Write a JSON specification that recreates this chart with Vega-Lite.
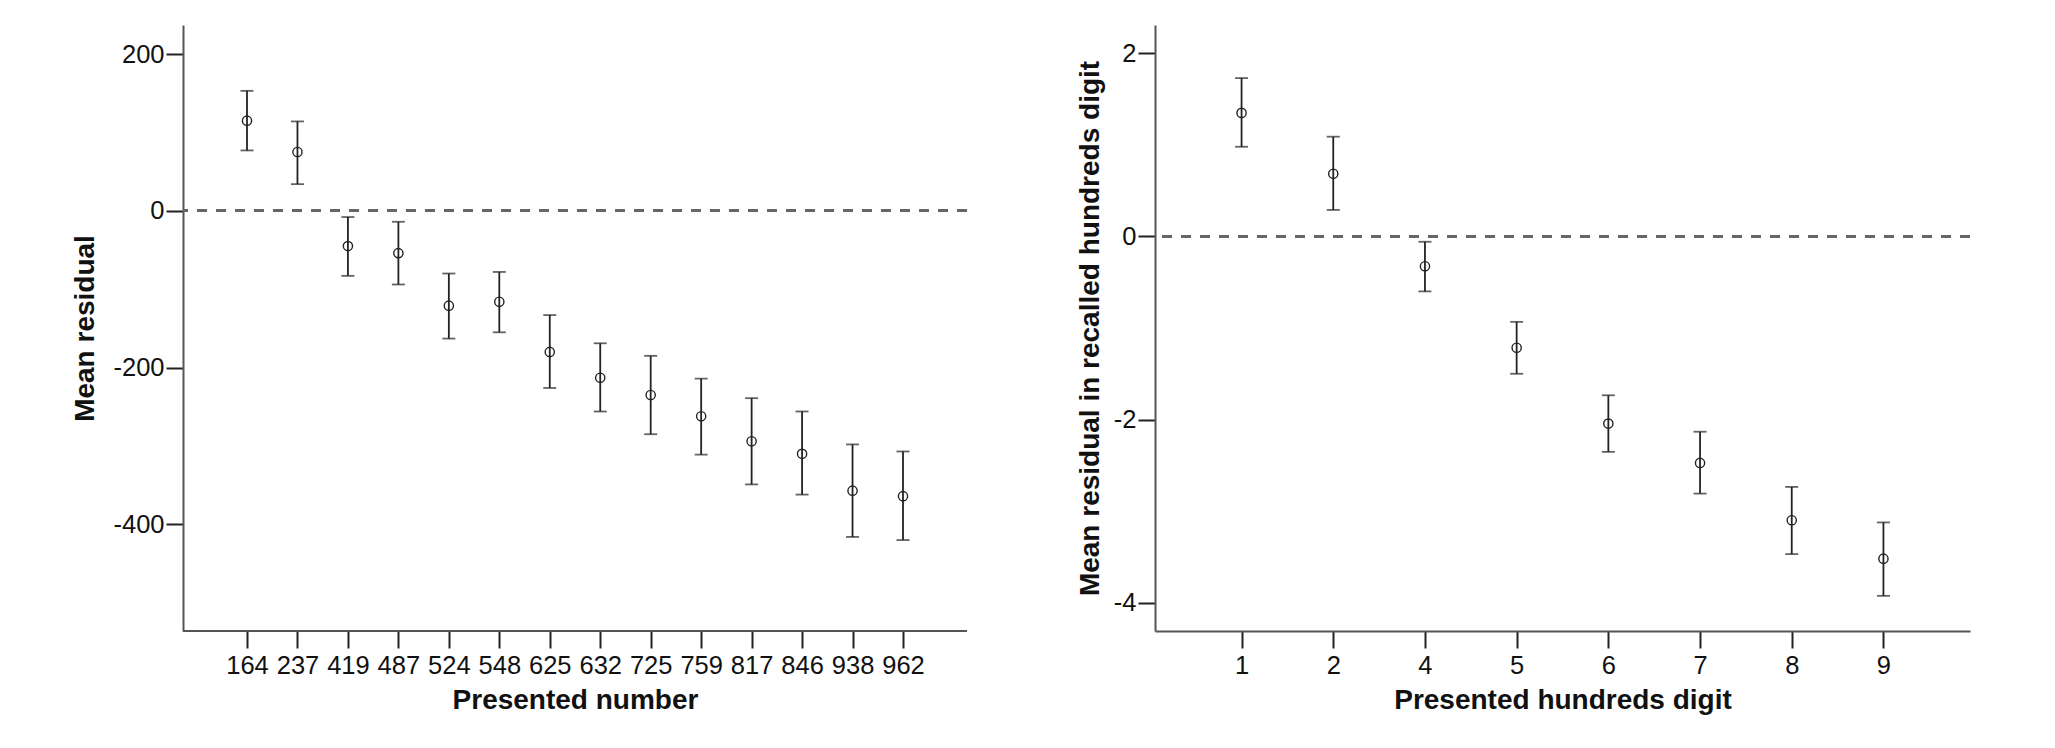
{
  "$schema": "https://vega.github.io/schema/vega-lite/v6.json",
  "background": "white",
  "padding": {"left": 71, "top": 25, "right": 10, "bottom": 10},
  "bounds": "flush",
  "spacing": 188,
  "datasets": {
    "numbers": [
      {"presented": 164, "mean": 115, "lo": 77, "hi": 153},
      {"presented": 237, "mean": 75, "lo": 34, "hi": 114},
      {"presented": 419, "mean": -45, "lo": -83, "hi": -8},
      {"presented": 487, "mean": -54, "lo": -94, "hi": -14},
      {"presented": 524, "mean": -121, "lo": -163, "hi": -80},
      {"presented": 548, "mean": -116, "lo": -155, "hi": -78},
      {"presented": 625, "mean": -180, "lo": -226, "hi": -133},
      {"presented": 632, "mean": -213, "lo": -256, "hi": -169},
      {"presented": 725, "mean": -235, "lo": -285, "hi": -185},
      {"presented": 759, "mean": -262, "lo": -311, "hi": -214},
      {"presented": 817, "mean": -294, "lo": -349, "hi": -239},
      {"presented": 846, "mean": -310, "lo": -362, "hi": -256},
      {"presented": 938, "mean": -357, "lo": -416, "hi": -298},
      {"presented": 962, "mean": -364, "lo": -420, "hi": -307}
    ],
    "digits": [
      {"digit": 1, "mean": 1.35, "lo": 0.98, "hi": 1.73},
      {"digit": 2, "mean": 0.685, "lo": 0.29, "hi": 1.09},
      {"digit": 4, "mean": -0.325, "lo": -0.6, "hi": -0.058},
      {"digit": 5, "mean": -1.216, "lo": -1.5, "hi": -0.933},
      {"digit": 6, "mean": -2.044, "lo": -2.353, "hi": -1.735},
      {"digit": 7, "mean": -2.474, "lo": -2.809, "hi": -2.133},
      {"digit": 8, "mean": -3.1, "lo": -3.47, "hi": -2.736},
      {"digit": 9, "mean": -3.52, "lo": -3.926, "hi": -3.124}
    ]
  },
  "hconcat": [
    {
      "width": 784,
      "height": 606,
      "data": {"name": "numbers"},
      "encoding": {
        "x": {
          "field": "presented",
          "type": "ordinal",
          "scale": {"type": "point", "padding": 0, "range": [64, 720]},
          "axis": {"domain": false},
          "title": "Presented number"
        }
      },
      "layer": [
        {
          "mark": {"type": "rule", "color": "#666666", "strokeWidth": 2, "strokeDash": [10, 9]},
          "encoding": {"x": null, "y": {"datum": 0}}
        },
        {
          "mark": {"type": "rule", "color": "#555555", "strokeWidth": 2},
          "encoding": {"x": null, "y": {"datum": -536}}
        },
        {
          "mark": {"type": "rule", "color": "#222222", "strokeWidth": 1.8},
          "encoding": {
            "y": {
              "field": "lo",
              "type": "quantitative",
              "scale": {"domain": [-536, 237], "nice": false, "zero": false},
              "axis": {"values": [-400, -200, 0, 200]},
              "title": "Mean residual"
            },
            "y2": {"field": "hi"}
          }
        },
        {
          "mark": {"type": "tick", "color": "#222222", "size": 13, "thickness": 1.8},
          "encoding": {"y": {"field": "lo", "type": "quantitative"}}
        },
        {
          "mark": {"type": "tick", "color": "#222222", "size": 13, "thickness": 1.8},
          "encoding": {"y": {"field": "hi", "type": "quantitative"}}
        },
        {
          "mark": {"type": "point", "shape": "circle", "filled": false, "size": 85, "color": "#222222", "strokeWidth": 1.4, "opacity": 1},
          "encoding": {"y": {"field": "mean", "type": "quantitative"}}
        }
      ]
    },
    {
      "width": 815,
      "height": 606,
      "data": {"name": "digits"},
      "encoding": {
        "x": {
          "field": "digit",
          "type": "ordinal",
          "scale": {"type": "point", "padding": 0.944},
          "title": "Presented hundreds digit"
        }
      },
      "layer": [
        {
          "mark": {"type": "rule", "color": "#666666", "strokeWidth": 2, "strokeDash": [10, 9]},
          "encoding": {"x": null, "y": {"datum": 0}}
        },
        {
          "mark": {"type": "rule", "color": "#222222", "strokeWidth": 1.8},
          "encoding": {
            "y": {
              "field": "lo",
              "type": "quantitative",
              "scale": {"domain": [-4.31, 2.31], "nice": false, "zero": false},
              "axis": {"values": [-4, -2, 0, 2], "titlePadding": 9},
              "title": "Mean residual in recalled hundreds digit"
            },
            "y2": {"field": "hi"}
          }
        },
        {
          "mark": {"type": "tick", "color": "#222222", "size": 13, "thickness": 1.8},
          "encoding": {"y": {"field": "lo", "type": "quantitative"}}
        },
        {
          "mark": {"type": "tick", "color": "#222222", "size": 13, "thickness": 1.8},
          "encoding": {"y": {"field": "hi", "type": "quantitative"}}
        },
        {
          "mark": {"type": "point", "shape": "circle", "filled": false, "size": 85, "color": "#222222", "strokeWidth": 1.4, "opacity": 1},
          "encoding": {"y": {"field": "mean", "type": "quantitative"}}
        }
      ]
    }
  ],
  "config": {
    "font": "Liberation Sans",
    "view": {"stroke": null},
    "axis": {
      "grid": false,
      "domainColor": "#555555",
      "domainWidth": 2,
      "tickColor": "#222222",
      "tickWidth": 2,
      "tickSize": 17,
      "labelFont": "Liberation Sans",
      "labelFontSize": 25.5,
      "labelColor": "#111111",
      "labelExpr": "'' + datum.value",
      "titleFont": "Liberation Sans",
      "titleFontSize": 28,
      "titleFontWeight": "bold",
      "titleColor": "#111111"
    },
    "axisX": {"labelPadding": 5, "labelAngle": 0, "titlePadding": 8},
    "axisY": {"labelPadding": 2, "titlePadding": 13}
  }
}
